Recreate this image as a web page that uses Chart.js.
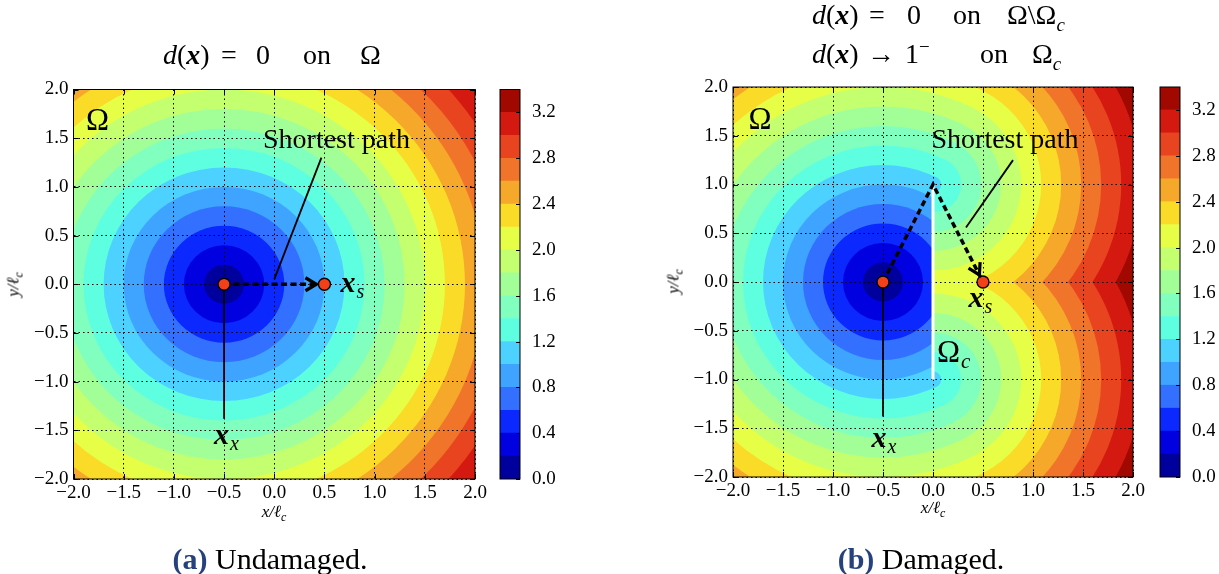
<!DOCTYPE html>
<html><head><meta charset="utf-8"><title>Distance field</title>
<script src="https://cdn.jsdelivr.net/npm/chart.js@4/dist/chart.umd.min.js"></script>
<style>
html,body{margin:0;padding:0;background:#fff;}
#wrap{position:relative;width:1219px;height:574px;overflow:hidden;font-family:"Liberation Serif","DejaVu Serif",serif;color:#000;}
canvas{position:absolute;top:0;}
.t{position:absolute;white-space:nowrap;line-height:27px;font-size:28px;}
.bx{font-weight:bold;font-style:italic;}
.ax{position:absolute;white-space:nowrap;font-size:17px;line-height:17px;text-align:center;font-style:italic;}
.cap{position:absolute;white-space:nowrap;font-size:30px;line-height:29px;text-align:center;width:400px;}
.cap b{color:#26427c;}
sub,sup{line-height:0;}
</style></head><body><div id="wrap">
<canvas id="plotA" width="490" height="574" style="left:0px"></canvas>
<canvas id="cbarA" width="60" height="574" style="left:495px"></canvas>
<canvas id="plotB" width="490" height="574" style="left:660px"></canvas>
<canvas id="cbarB" width="60" height="574" style="left:1155px"></canvas>

<div class="t" style="left:163px;top:41px"><i>d</i>(<span class="bx">x</span>)</div>
<div class="t" style="left:221px;top:41px">=</div>
<div class="t" style="left:256px;top:41px">0</div>
<div class="t" style="left:303px;top:41px">on</div>
<div class="t" style="left:360px;top:41px">Ω</div>

<div class="t" style="left:812px;top:1px"><i>d</i>(<span class="bx">x</span>)</div>
<div class="t" style="left:869px;top:1px">=</div>
<div class="t" style="left:907px;top:1px">0</div>
<div class="t" style="left:953px;top:1px">on</div>
<div class="t" style="left:1007px;top:1px">Ω\Ω<sub style="font-size:19px;font-style:italic">c</sub></div>

<div class="t" style="left:812px;top:40px"><i>d</i>(<span class="bx">x</span>)</div>
<div class="t" style="left:867px;top:40px">→</div>
<div class="t" style="left:905px;top:40px">1<sup style="font-size:19px">−</sup></div>
<div class="t" style="left:980px;top:40px">on</div>
<div class="t" style="left:1032px;top:40px">Ω<sub style="font-size:19px;font-style:italic">c</sub></div>

<div class="ax" style="left:224px;top:503px;width:100px">x/ℓ<sub style="font-size:12px">c</sub></div>
<div class="ax" style="left:883px;top:499px;width:100px">x/ℓ<sub style="font-size:12px">c</sub></div>
<div class="ax" style="left:-37px;top:276px;width:100px;transform:rotate(-90deg)">y/ℓ<sub style="font-size:12px">c</sub></div>
<div class="ax" style="left:623px;top:273px;width:100px;transform:rotate(-90deg)">y/ℓ<sub style="font-size:12px">c</sub></div>

<div class="cap" style="left:70px;top:544px"><b>(a)</b> Undamaged.</div>
<div class="cap" style="left:721px;top:544px"><b>(b)</b> Damaged.</div>
</div>
<script>
// ---------------- data ----------------
const xTickValues = [-2.0, -1.5, -1.0, -0.5, 0.0, 0.5, 1.0, 1.5, 2.0];
const yTickValues = [-2.0, -1.5, -1.0, -0.5, 0.0, 0.5, 1.0, 1.5, 2.0];
const levels = [0.0, 0.2, 0.4, 0.6, 0.8, 1.0, 1.2, 1.4, 1.6, 1.8, 2.0, 2.2, 2.4, 2.6, 2.8, 3.0, 3.2, 3.4];
const bandColors = ['#00009c', '#0000e0', '#0a28ff', '#3370ff', '#3ea4ff', '#4dd2ff', '#5effe0', '#80ffbe',
  '#a2ff98', '#c4ff70', '#e6ff46', '#fadc28', '#f5a82a', '#f0742a', '#e84420', '#d41a10', '#a00800'];
const colorbarTicks = [0.0, 0.4, 0.8, 1.2, 1.6, 2.0, 2.4, 2.8, 3.2];
const sourcePoint = [-0.5, 0.0];
const targetPoint = [0.5, 0.0];
const crackEnds = [[0.0, 1.0], [0.0, -1.0]];
const pathUndamaged = [[-0.5, 0.0], [0.5, 0.0]];
const pathDamaged = [[-0.5, 0.0], [0.0, 1.0], [0.5, 0.0]];
const sourceLeaderA = [[-0.5, 0.0], [-0.5, -1.38]];
const sourceLeaderB = [[-0.5, 0.0], [-0.5, -1.38]];
const pathLeaderA = [[0.0, 0.05], [0.47, 1.30]];
const pathLeaderB = [[0.33, 0.56], [0.80, 1.25]];
const labelsA = [
  {kind: 'plain', text: 'Ω', at: [-1.76, 1.58], size: 31},
  {kind: 'plain', text: 'Shortest path', at: [0.62, 1.395], size: 28},
  {kind: 'math', text: 'x', sub: 's', at: [0.735, -0.08], size: 30},
  {kind: 'math', text: 'x', sub: 'x', at: [-0.525, -1.64], size: 30}
];
const labelsB = [
  {kind: 'plain', text: 'Ω', at: [-1.73, 1.57], size: 31},
  {kind: 'plain', text: 'Shortest path', at: [0.72, 1.37], size: 28},
  {kind: 'math', text: 'x', sub: 's', at: [0.43, -0.256], size: 30},
  {kind: 'math', text: 'x', sub: 'x', at: [-0.54, -1.69], size: 30},
  {kind: 'sub', text: 'Ω', sub: 'c', at: [0.155, -0.82], size: 31}
];

// ---------------- helpers ----------------
const FONT = '"Liberation Serif", "DejaVu Serif", serif';
const pt = p => ({x: p[0], y: p[1]});
const fmt = v => (v < 0 ? '\u2212' : '') + Math.abs(v).toFixed(1);
function px(chart, p) {
  return [chart.scales.x.getPixelForValue(p[0]), chart.scales.y.getPixelForValue(p[1])];
}
function fillDisk(chart, c, r) {
  if (r <= 0) return;
  const xs = chart.scales.x, ys = chart.scales.y, ctx = chart.ctx;
  const cx = xs.getPixelForValue(c[0]), cy = ys.getPixelForValue(c[1]);
  const rx = Math.abs(xs.getPixelForValue(c[0] + r) - cx);
  const ry = Math.abs(ys.getPixelForValue(c[1] + r) - cy);
  ctx.beginPath(); ctx.ellipse(cx, cy, rx, ry, 0, 0, Math.PI * 2); ctx.fill();
}
function clipArea(chart) {
  const a = chart.chartArea, ctx = chart.ctx;
  ctx.beginPath(); ctx.rect(a.left, a.top, a.right - a.left, a.bottom - a.top); ctx.clip();
}

const contourUndamaged = {id: 'contourUndamaged', beforeDraw(chart) {
  const ctx = chart.ctx, a = chart.chartArea, n = bandColors.length;
  ctx.save(); clipArea(chart);
  ctx.fillStyle = bandColors[n - 1];
  ctx.fillRect(a.left, a.top, a.right - a.left, a.bottom - a.top);
  for (let k = n - 2; k >= 0; k--) { ctx.fillStyle = bandColors[k]; fillDisk(chart, sourcePoint, levels[k + 1]); }
  ctx.restore();
}};

const contourDamaged = {id: 'contourDamaged', beforeDraw(chart) {
  const ctx = chart.ctx, a = chart.chartArea, n = bandColors.length;
  const ct = crackEnds[0], cb = crackEnds[1];
  const hop = Math.hypot(ct[0] - sourcePoint[0], ct[1] - sourcePoint[1]);
  const far = 10;
  const rayT = [ct[0] + far * (ct[0] - sourcePoint[0]), ct[1] + far * (ct[1] - sourcePoint[1])];
  const rayB = [cb[0] + far * (cb[0] - sourcePoint[0]), cb[1] + far * (cb[1] - sourcePoint[1])];
  const leftX = sourcePoint[0] - far;
  const visible = [rayB, cb, ct, rayT, [leftX, rayT[1]], [leftX, rayB[1]]];
  ctx.save(); clipArea(chart);
  ctx.fillStyle = bandColors[n - 1];
  ctx.fillRect(a.left, a.top, a.right - a.left, a.bottom - a.top);
  for (let k = n - 2; k >= 0; k--) {
    const L = levels[k + 1];
    ctx.fillStyle = bandColors[k];
    ctx.save();
    ctx.beginPath();
    visible.forEach((p, i) => { const q = px(chart, p); i ? ctx.lineTo(q[0], q[1]) : ctx.moveTo(q[0], q[1]); });
    ctx.closePath(); ctx.clip();
    fillDisk(chart, sourcePoint, L);
    ctx.restore();
    fillDisk(chart, ct, L - hop);
    fillDisk(chart, cb, L - hop);
  }
  ctx.restore();
}};

function decorPlugin(labels, path) {
  return {id: 'decor', afterDraw(chart) {
    const ctx = chart.ctx, a = chart.chartArea, xs = chart.scales.x, ys = chart.scales.y;
    ctx.save();
    ctx.strokeStyle = '#000'; ctx.lineWidth = 1; ctx.setLineDash([]);
    ctx.beginPath();
    xs.ticks.forEach(t => {
      const p = Math.round(xs.getPixelForValue(t.value)) + 0.5;
      ctx.moveTo(p, a.bottom); ctx.lineTo(p, a.bottom - 5);
      ctx.moveTo(p, a.top); ctx.lineTo(p, a.top + 5);
    });
    ys.ticks.forEach(t => {
      const p = Math.round(ys.getPixelForValue(t.value)) + 0.5;
      ctx.moveTo(a.left, p); ctx.lineTo(a.left + 5, p);
      ctx.moveTo(a.right, p); ctx.lineTo(a.right - 5, p);
    });
    ctx.stroke();
    ctx.strokeRect(a.left, a.top, a.right - a.left, a.bottom - a.top);
    // arrow head at end of the shortest path
    const n = path.length;
    const e = px(chart, path[n - 1]), s = px(chart, path[n - 2]);
    const len = Math.hypot(e[0] - s[0], e[1] - s[1]);
    const d = [(e[0] - s[0]) / len, (e[1] - s[1]) / len], q = [-d[1], d[0]];
    const tip = [e[0] - d[0] * 8, e[1] - d[1] * 8];
    ctx.lineWidth = 3.2; ctx.lineJoin = 'miter';
    ctx.beginPath();
    ctx.moveTo(tip[0] - d[0] * 11 + q[0] * 6.5, tip[1] - d[1] * 11 + q[1] * 6.5);
    ctx.lineTo(tip[0], tip[1]);
    ctx.lineTo(tip[0] - d[0] * 11 - q[0] * 6.5, tip[1] - d[1] * 11 - q[1] * 6.5);
    ctx.stroke();
    // text labels
    ctx.fillStyle = '#000'; ctx.textBaseline = 'alphabetic';
    labels.forEach(l => {
      const p = px(chart, l.at);
      if (l.kind === 'plain') {
        ctx.font = l.size + 'px ' + FONT; ctx.textAlign = 'center';
        ctx.fillText(l.text, p[0], p[1]);
      } else {
        ctx.font = (l.kind === 'math' ? 'bold italic ' : '') + l.size + 'px ' + FONT;
        ctx.textAlign = 'left';
        const w = ctx.measureText(l.text).width;
        ctx.fillText(l.text, p[0] - w / 2, p[1]);
        ctx.font = 'italic ' + Math.round(l.size * 0.68) + 'px ' + FONT;
        ctx.fillText(l.sub, p[0] + w / 2 + 1, p[1] + l.size * 0.2);
      }
    });
    ctx.restore();
  }};
}

function axisOpts(values, isX, size) {
  return {
    type: 'linear', min: -2, max: 2,
    afterBuildTicks: s => { s.ticks = values.map(v => ({value: v})); },
    afterFit: s => { if (isX) s.height = size; else s.width = size; },
    ticks: {callback: v => fmt(v), font: {family: FONT, size: 19}, color: '#000', padding: isX ? 3 : 5,
      maxRotation: 0, autoSkip: false},
    grid: {color: '#000', lineWidth: 1, drawTicks: false, borderDash: [1.5, 3]},
    border: {display: false, dash: [1.5, 3]}
  };
}

function makePlot(id, opt) {
  const datasets = [
    {data: [pt(sourcePoint), pt(targetPoint)], pointRadius: 6, pointBackgroundColor: '#f2401b',
      pointBorderColor: '#000', pointBorderWidth: 1.3, showLine: false, order: 0},
    {data: opt.path.map(pt), showLine: true, borderColor: '#000', borderWidth: 3.5, borderDash: [6, 3.5],
      pointRadius: 0, order: 1},
    {data: opt.srcLeader.map(pt), showLine: true, borderColor: '#000', borderWidth: 1.8, pointRadius: 0, order: 2},
    {data: opt.pathLeader.map(pt), showLine: true, borderColor: '#000', borderWidth: 1.8, pointRadius: 0, order: 2}
  ];
  if (opt.crack) datasets.push({data: crackEnds.map(pt), showLine: true, borderColor: '#ffffff', borderWidth: 3,
    pointRadius: 0, order: 3});
  return new Chart(document.getElementById(id), {
    type: 'scatter',
    data: {datasets},
    options: {
      responsive: false, animation: false, devicePixelRatio: 1, events: [],
      layout: {padding: opt.padding},
      plugins: {legend: {display: false}, tooltip: {enabled: false}},
      scales: {x: axisOpts(xTickValues, true, 40), y: axisOpts(yTickValues, false, opt.yWidth)}
    },
    plugins: [opt.contour, decorPlugin(opt.labels, opt.path)]
  });
}

function makeColorbar(id, padding) {
  return new Chart(document.getElementById(id), {
    type: 'bar',
    data: {labels: ['d'], datasets: bandColors.map((c, i) => ({
      data: [[levels[i], levels[i + 1]]], backgroundColor: c, borderWidth: 0,
      barPercentage: 1, categoryPercentage: 1, grouped: false}))},
    options: {
      responsive: false, animation: false, devicePixelRatio: 1, events: [],
      layout: {padding},
      plugins: {legend: {display: false}, tooltip: {enabled: false}},
      scales: {
        x: {display: false, stacked: true},
        y: {position: 'right', min: levels[0], max: levels[levels.length - 1],
          afterBuildTicks: s => { s.ticks = colorbarTicks.map(v => ({value: v})); },
          afterFit: s => { s.width = 35; },
          ticks: {callback: v => fmt(v), font: {family: FONT, size: 19}, color: '#000', padding: 4, autoSkip: false},
          grid: {display: false}, border: {display: false}}
      }
    },
    plugins: [{id: 'cbframe', afterDraw(chart) {
      const ctx = chart.ctx, a = chart.chartArea, ys = chart.scales.y;
      ctx.save(); ctx.strokeStyle = '#000'; ctx.lineWidth = 1;
      ctx.beginPath();
      ys.ticks.forEach(t => {
        const p = Math.round(ys.getPixelForValue(t.value)) + 0.5;
        ctx.moveTo(a.right, p); ctx.lineTo(a.right - 4, p);
      });
      ctx.stroke();
      ctx.strokeRect(a.left, a.top, a.right - a.left, a.bottom - a.top);
      ctx.restore();
    }}]
  });
}

makePlot('plotA', {path: pathUndamaged, srcLeader: sourceLeaderA, pathLeader: pathLeaderA, crack: false,
  contour: contourUndamaged, labels: labelsA, yWidth: 73.5,
  padding: {left: 0, right: 15, top: 89.5, bottom: 55}});
makePlot('plotB', {path: pathDamaged, srcLeader: sourceLeaderB, pathLeader: pathLeaderB, crack: true,
  contour: contourDamaged, labels: labelsB, yWidth: 73,
  padding: {left: 0, right: 17, top: 87, bottom: 57}});
makeColorbar('cbarA', {left: 5, right: 0, top: 89.5, bottom: 95});
makeColorbar('cbarB', {left: 5, right: 0, top: 87, bottom: 97});
</script>
</body></html>
